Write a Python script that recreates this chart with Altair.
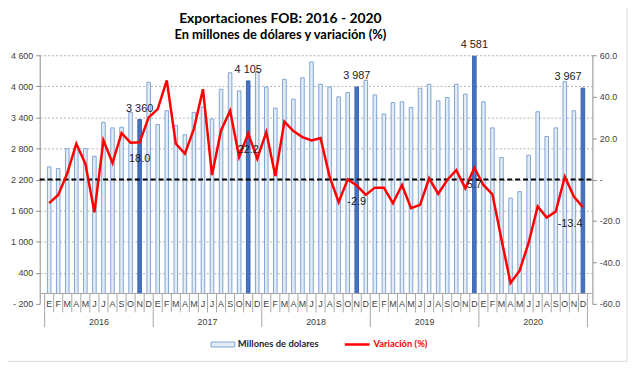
import altair as alt
import pandas as pd

# ---------------- data ----------------
month_letters = ["E", "F", "M", "A", "M", "J", "J", "A", "S", "O", "N", "D"]
years = [2016, 2017, 2018, 2019, 2020]

exports_2016 = [2445, 2415, 2797, 2850, 2800, 2650, 3306, 3198, 3210, 3500, 3360, 4080]
exports_2017 = [3262, 3529, 3242, 3064, 3497, 3600, 3370, 3944, 4262, 3912, 4105, 4281]
exports_2018 = [3988, 3581, 4135, 3753, 4166, 4472, 4040, 3988, 3797, 3879, 3987, 4116]
exports_2019 = [3835, 3466, 3688, 3701, 3593, 3963, 4040, 3720, 3784, 4040, 3849, 4581]
exports_2020 = [3701, 3198, 2625, 1841, 1967, 2669, 3510, 3032, 3198, 4090, 3529, 3967]

var_2016 = [-11.4, -7.4, 3.0, 17.3, 7.7, -15.8, 18.9, 8.0, 22.4, 17.8, 18.0, 30.0]
var_2017 = [34.0, 47.9, 17.3, 12.5, 24.5, 43.6, 2.2, 23.7, 33.2, 10.9, 22.2, 10.1]
var_2018 = [22.9, 1.7, 28.0, 23.4, 20.5, 18.9, 20.0, 1.4, -10.9, 0.1, -2.9, -7.4]
var_2019 = [-3.9, -3.9, -11.4, -2.6, -13.8, -12.2, 0.6, -6.9, -0.2, 4.5, -4.2, 5.7]
var_2020 = [-2.6, -7.1, -28.9, -49.9, -44.0, -30.5, -13.0, -18.3, -15.4, 1.4, -8.2, -13.4]

highlight_idx = [10, 22, 34, 47, 59]
left_ticks = [-200, 400, 1000, 1600, 2200, 2800, 3400, 4000, 4600]
right_ticks = [-60, -40, -20, 0, 20, 40, 60]

title_text = "Exportaciones FOB: 2016 - 2020"
subtitle_text = "En millones de dólares y variación (%)"
legend_labels = ["Millones de dolares", "Variación (%)"]

exports = exports_2016 + exports_2017 + exports_2018 + exports_2019 + exports_2020
variation = var_2016 + var_2017 + var_2018 + var_2019 + var_2020

df = pd.DataFrame({
    "idx": list(range(60)),
    "month": month_letters * 5,
    "year": [y for y in years for _ in range(12)],
    "exports": exports,
    "variation": variation,
    "hl": [i in highlight_idx for i in range(60)],
})

year_df = pd.DataFrame({"year": [str(y) for y in years],
                        "center": [12 * k + 5.5 for k in range(len(years))]})
month_sep_df = pd.DataFrame({"b": [i - 0.5 for i in range(61) if i % 12 != 0]})
year_sep_df = pd.DataFrame({"b": [i - 0.5 for i in range(61) if i % 12 == 0]})
one = pd.DataFrame({"a": [0]})

# ---------------- layout ----------------
W, H = 558, 251
Y_DOM = [-200, 4600]
P_DOM = [-60, 60]
zero_px = H * (Y_DOM[1] - 0) / (Y_DOM[1] - Y_DOM[0])
LABEL_FONT = "Liberation Sans"
MINUS = "\u2212"

xs = alt.Scale(domain=[-0.5, 59.5], nice=False, zero=False)
X = alt.X("idx:Q", scale=xs, axis=None)
yscale = alt.Scale(domain=Y_DOM, nice=False, zero=False)
pscale = alt.Scale(domain=P_DOM, nice=False, zero=False)

bars = alt.Chart(df).mark_bar(width=3.6, strokeWidth=1).encode(
    x=X,
    y=alt.Y("exports:Q", scale=yscale, title=None,
            axis=alt.Axis(values=left_ticks,
                          labelExpr="datum.value < 0 ? '- ' + format(-datum.value, ',') : replace(format(datum.value, ','), ',', ' ')",
                          grid=True, gridDash=[2, 2], gridColor="#b0b0b0",
                          gridOpacity={"condition": {"test": "datum.value < 0", "value": 0}, "value": 1},
                          tickSize=4, tickColor="#8c8c8c", domainColor="#8c8c8c",
                          labelFontSize=9, labelColor="#404040", labelFont=LABEL_FONT,
                          labelPadding=3)),
    y2=alt.datum(0),
    fill=alt.condition("datum.hl", alt.value("#4472c4"), alt.value("#e3ebf5")),
    stroke=alt.condition("datum.hl", alt.value("#3c65ad"), alt.value("#7fa5d6")),
)

zero_axis = alt.Chart(one).mark_rule(color="#a6a6a6", strokeWidth=1).encode(
    x=alt.value(0), x2=alt.value(W), y=alt.value(zero_px))

month_seps = alt.Chart(month_sep_df).mark_rule(color="#a6a6a6", strokeWidth=1).encode(
    x=alt.X("b:Q", scale=xs, axis=None),
    y=alt.value(zero_px), y2=alt.value(zero_px + 19))
year_seps = alt.Chart(year_sep_df).mark_rule(color="#a6a6a6", strokeWidth=1).encode(
    x=alt.X("b:Q", scale=xs, axis=None),
    y=alt.value(zero_px), y2=alt.value(zero_px + 34))

month_text = alt.Chart(df).mark_text(fontSize=9, font=LABEL_FONT, color="#404040",
                                     baseline="middle").encode(
    x=X, y=alt.value(zero_px + 11), text="month:N")

year_text = alt.Chart(year_df).mark_text(fontSize=9, font=LABEL_FONT, color="#404040",
                                         baseline="middle").encode(
    x=alt.X("center:Q", scale=xs, axis=None), y=alt.value(zero_px + 29), text="year:N")

lbl_calc = "replace(format(datum.exports, ','), ',', ' ')"
bar_lbl = alt.Chart(df).transform_filter("datum.hl && datum.idx < 59").transform_calculate(
    lbl=lbl_calc).mark_text(fontSize=11, font=LABEL_FONT, color="#1a1a1a", dy=-11,
                            baseline="middle").encode(
    x=X, y=alt.Y("exports:Q", scale=yscale, axis=None), text="lbl:N")
bar_lbl_last = alt.Chart(df).transform_filter("datum.idx == 59").transform_calculate(
    lbl=lbl_calc).mark_text(fontSize=11, font=LABEL_FONT, color="#1a1a1a", dy=-11, dx=-15,
                            baseline="middle").encode(
    x=X, y=alt.Y("exports:Q", scale=yscale, axis=None), text="lbl:N")

zero_pct = alt.Chart(pd.DataFrame({"v": [0]})).mark_rule(
    color="black", strokeDash=[5, 3], strokeWidth=2).encode(
    y=alt.Y("v:Q", scale=pscale, axis=None), x=alt.value(0), x2=alt.value(W))

line = alt.Chart(df).mark_line(color="#ff0000", strokeWidth=2.5).encode(
    x=X,
    y=alt.Y("variation:Q", scale=pscale, title=None,
            axis=alt.Axis(orient="right", values=right_ticks,
                          labelExpr="datum.value == 0 ? '-' : replace(format(datum.value, '.1f'), '" + MINUS + "', '-')",
                          grid=False, tickSize=4, tickColor="#8c8c8c", domainColor="#8c8c8c",
                          labelFontSize=9, labelColor="#404040", labelFont=LABEL_FONT,
                          labelPadding=3)),
)

pct_calc = "replace(format(datum.variation, '.1f'), '" + MINUS + "', '-')"
line_lbl = alt.Chart(df).transform_filter("datum.hl && datum.idx < 59").transform_calculate(
    lbl=pct_calc).mark_text(
    fontSize=11, font=LABEL_FONT, color="#1a1a1a", dy=17, baseline="middle").encode(
    x=X, y=alt.Y("variation:Q", scale=pscale, axis=None), text="lbl:N")
line_lbl_last = alt.Chart(df).transform_filter("datum.idx == 59").transform_calculate(
    lbl=pct_calc).mark_text(
    fontSize=11, font=LABEL_FONT, color="#1a1a1a", dy=17, dx=-13, baseline="middle").encode(
    x=X, y=alt.Y("variation:Q", scale=pscale, axis=None), text="lbl:N")

title = alt.Chart(pd.DataFrame({"t": [title_text]})).mark_text(
    font="Lato", fontSize=14, fontWeight="bold", color="black", align="center",
    baseline="alphabetic").encode(x=alt.value(243), y=alt.value(-33), text="t:N")
subtitle = alt.Chart(pd.DataFrame({"t": [subtitle_text]})).mark_text(
    font="Lato", fontSize=13, fontWeight="bold", color="black", align="center",
    baseline="alphabetic").encode(x=alt.value(243), y=alt.value(-16.5), text="t:N")

leg_rect = alt.Chart(one).mark_rect(fill="#e3ebf5", stroke="#7fa5d6", strokeWidth=1).encode(
    x=alt.value(173), x2=alt.value(197), y=alt.value(289.5), y2=alt.value(294.5))
leg_t1 = alt.Chart(pd.DataFrame({"t": [legend_labels[0]]})).mark_text(
    font="Lato", fontSize=9.5, fontWeight="bold", color="#262626", align="left",
    baseline="middle").encode(x=alt.value(200), y=alt.value(292), text="t:N")
leg_line = alt.Chart(one).mark_rule(color="#ff0000", strokeWidth=2.5).encode(
    x=alt.value(308), x2=alt.value(333), y=alt.value(292))
leg_t2 = alt.Chart(pd.DataFrame({"t": [legend_labels[1]]})).mark_text(
    font="Lato", fontSize=9.5, fontWeight="bold", color="#ff0000", align="left",
    baseline="middle").encode(x=alt.value(337), y=alt.value(292), text="t:N")

frame = alt.Chart(one).mark_rect(fill="transparent", stroke="#d9d9d9", strokeWidth=1).encode(
    x=alt.value(-37), x2=alt.value(593), y=alt.value(-50), y2=alt.value(309))

chart = alt.layer(
    frame, bars, zero_axis, month_seps, year_seps, month_text, year_text, bar_lbl, bar_lbl_last,
    zero_pct, line, line_lbl, line_lbl_last, title, subtitle,
    leg_rect, leg_t1, leg_line, leg_t2,
).resolve_scale(y="independent").properties(
    width=W, height=H,
    autosize=alt.AutoSizeParams(type="none"),
    padding={"left": 32, "top": 46, "right": 40, "bottom": 60},
).configure_view(stroke=None)

chart.save("out.html", embed_options={"renderer": "svg", "actions": False})
